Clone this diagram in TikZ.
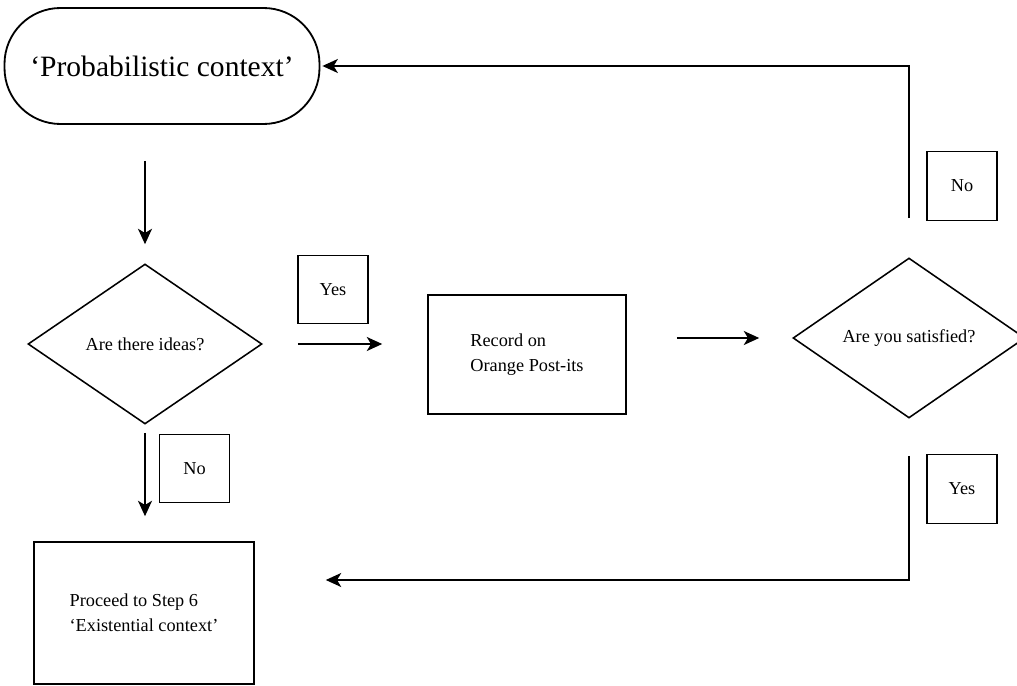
\documentclass[tikz,border=0pt]{standalone}
\usepackage{fontspec}
\setmainfont{Liberation Serif}
\usetikzlibrary{calc}
\usetikzlibrary{positioning}
\usetikzlibrary{shapes.geometric}
\usetikzlibrary{arrows.meta}

\begin{document}
\begin{tikzpicture}[
    txt/.style={font=\fontsize{13}{18}\selectfont},
    terminal/.style={draw, line width=1.3pt, rounded corners=1.4cm,
      minimum width=7.875cm, minimum height=2.9cm,
      font=\fontsize{21}{25}\selectfont},
    decision/.style={draw, diamond, line width=1.1pt, inner sep=0pt,
      minimum width=5.85cm, minimum height=4cm, txt},
    process/.style={draw, rectangle, line width=1.1pt, align=left, txt},
    tag/.style={draw, rectangle, line width=0.8pt,
      minimum width=1.75cm, minimum height=1.72cm, txt},
    flow/.style={line width=1pt,
      -{Stealth[length=11pt, width=10pt, inset=3pt]}}
  ]
  \useasboundingbox (0,0) rectangle (25.425,-17.15);

  % main steps
  \node[terminal] (term) at (4.05,-1.65) {`Probabilistic context'};
  \node[decision] (ideas) at (3.625,-8.6) {Are there ideas?};
  \node[process, minimum width=4.95cm, minimum height=2.975cm]
    (record) at (13.175,-8.8625) {Record on\\Orange Post-its};
  \node[decision, minimum width=5.8cm] (happy) at (22.725,-8.45)
    {Are you satisfied?};
  \node[process, minimum width=5.5cm, minimum height=3.55cm]
    (step6) at (3.6,-15.325) {Proceed to Step 6\\`Existential context'};

  % answer tags
  \node[tag] (yesA) at (8.325,-7.2375) {Yes};
  \node[tag] (noA) at (4.8625,-11.7125) {No};
  \node[tag] (noB) at (24.05,-4.65) {No};
  \node[tag] (yesB) at (24.05,-12.225) {Yes};

  % connectors
  \draw[flow, shorten <=0.9cm, shorten >=0.475cm]
    (ideas.north |- term.south) -- (ideas.north);
  \draw[flow, shorten <=0.875cm, shorten >=1.125cm]
    (ideas.east) -- (ideas.east -| record.west);
  \draw[flow, shorten <=1.25cm, shorten >=0.825cm]
    (record.east |- happy.west) -- (happy.west);
  \draw[flow, shorten <=0.975cm, shorten >=0.05cm]
    (happy.north) |- (term.east);
  \draw[flow, shorten <=0.2cm, shorten >=0.625cm]
    (ideas.south) -- (ideas.south |- step6.north);
  \coordinate (back) at ([yshift=0.825cm]step6.east);
  \draw[flow, shorten <=0.925cm, shorten >=1.775cm]
    (happy.south) |- (back);
\end{tikzpicture}
\end{document}
